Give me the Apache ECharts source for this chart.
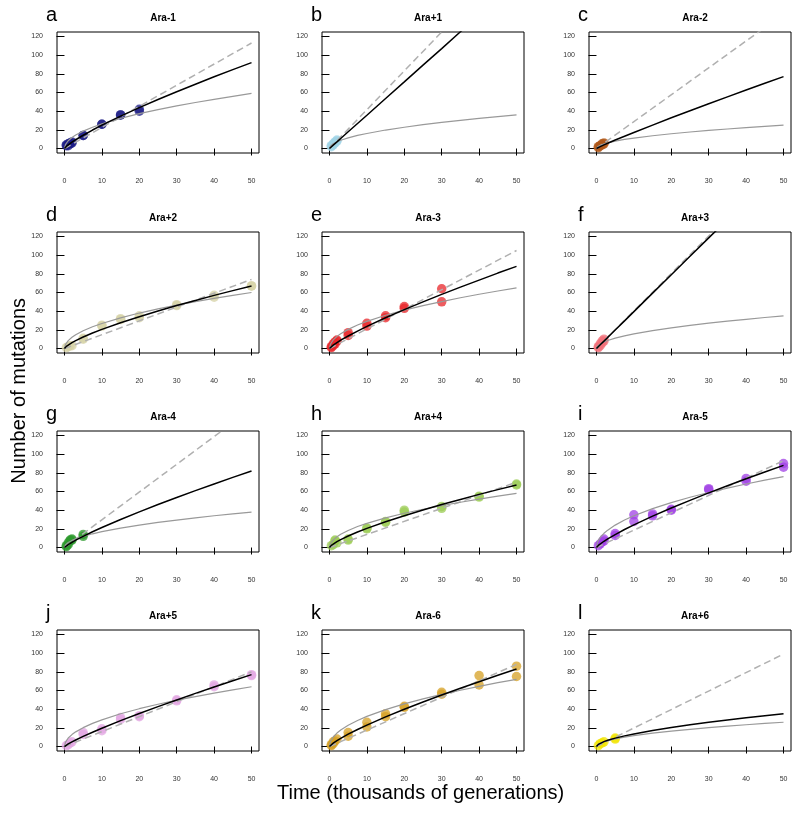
<!DOCTYPE html>
<html><head><meta charset="utf-8">
<script src="https://cdn.jsdelivr.net/npm/echarts@6/dist/echarts.min.js"></script>
<style>html,body{margin:0;padding:0;background:#fff}#c{width:800px;height:813px}</style>
</head><body><div id="c"></div>
<script>
// ---- data ----
const panelNames = ["Ara-1","Ara+1","Ara-2","Ara+2","Ara-3","Ara+3","Ara-4","Ara+4","Ara-5","Ara+5","Ara-6","Ara+6"];
const panelLetters = ["a","b","c","d","e","f","g","h","i","j","k","l"];
const panelColors = ["#1c1c86","#9fd3e6","#b0581a","#d6d2a6","#e8262a","#f2707a","#2e9a2e","#9ccc55","#a040e4","#e2a6e2","#d6a024","#f2e400"];
const xTicks = [0,10,20,30,40,50];
const yTicks = [0,20,40,60,80,100,120];
const curveT = [0,0.25,0.5,1,2,3,5,7.5,10,15,20,25,30,35,40,45,50];
const dashT = [0,50];

const a_t = [0.5,0.5,1,1,1.5,1.5,2,2,5,5,10,10,15,15,20,20];
const a_y = [3,4,3,5,5,6,6,7,14,14,26,26,36,36,40,42];
const a_black = [0,1.3,2.2,3.9,6.8,9.4,14.2,19.8,25.0,34.7,43.8,52.5,60.8,68.9,76.8,84.5,92.0];
const a_grey = [0,4.2,5.9,8.3,11.8,14.4,18.6,22.8,26.4,32.3,37.3,41.7,45.7,49.3,52.7,55.9,59];
const a_dash = [0,113];

const b_t = [0.5,0.5,1,1,1.5,1.5,2,2];
const b_y = [2,3,4,5,6,7,8,9];
const b_black = [0,0.9,1.8,3.6,7.1,10.7,17.9,26.8,35.7,53.6,71.4,89.3,107,125,143,161,178];
const b_grey = [0,2.6,3.6,5.1,7.2,8.8,11.4,14.0,16.1,19.8,22.8,25.5,27.9,30.2,32.3,34.2,36];
const b_dash = [0,208];

const c_t = [0.5,0.5,1,1,1.5,1.5,2,2];
const c_y = [1,2,3,3,4,5,5,6];
const c_black = [0,0.6,1.1,2.0,3.9,5.6,9.1,13.2,17.2,25.1,32.9,40.4,47.9,55.3,62.6,69.9,77.0];
const c_grey = [0,1.8,2.5,3.5,5.0,6.1,7.9,9.7,11.2,13.7,15.8,17.7,19.4,20.9,22.4,23.7,25];
const c_dash = [0,144];

const d_t = [0.5,1,1.5,2,5,5,10,10,15,15,20,20,30,30,40,40,50,50];
const d_y = [1,2,3,3,10,11,24,25,31,32,33,35,46,47,55,57,67,67];
const d_black = [0,1.4,2.3,3.8,6.3,8.4,12.3,16.6,20.5,27.6,34.1,40.2,46.0,51.5,56.9,62.0,67.0];
const d_grey = [0,4.2,6.0,8.5,12.0,14.7,19.0,23.3,26.8,32.9,38.0,42.4,46.5,50.2,53.7,57.0,60];
const d_dash = [0,74];

const e_t = [0.5,0.5,1,1,1.5,1.5,2,2,5,5,10,10,15,15,20,20,30,30];
const e_y = [1,2,3,5,5,7,8,9,14,17,24,27,33,35,43,45,50,64];
const e_black = [0,1.2,2.1,3.6,6.4,8.9,13.4,18.7,23.7,32.9,41.7,50.0,58.0,65.8,73.3,80.8,88.0];
const e_grey = [0,4.6,6.5,9.2,13.0,15.9,20.5,25.2,29.1,35.6,41.1,46.0,50.3,54.4,58.1,61.6,65];
const e_dash = [0,105];

const f_t = [0.5,0.5,1,1,1.5,1.5,2,2];
const f_y = [1,2,3,5,6,8,8,10];
const f_black = [0,1.0,2.0,4.0,7.9,11.9,19.8,29.6,39.5,59.3,79.0,98.8,118.5,138,158,178,197.5];
const f_grey = [0,2.5,3.5,5.0,7.0,8.6,11.1,13.6,15.7,19.2,22.1,24.8,27.1,29.3,31.3,33.2,35];
const f_dash = [0,201];

const g_t = [0.5,0.5,1,1,1.5,1.5,2,2,5,5];
const g_y = [1,2,3,5,7,8,8,9,12,14];
const g_black = [0,1.0,1.8,3.1,5.6,7.9,12.0,16.9,21.4,30.0,38.2,46.0,53.5,60.9,68.1,75.1,82.0];
const g_grey = [0,2.7,3.8,5.4,7.6,9.3,12.0,14.7,17.0,20.8,24.0,26.9,29.4,31.8,34.0,36.0,38];
const g_dash = [0,148.5];

const h_t = [0.5,1,1.5,1.5,2,5,5,10,10,15,15,20,20,30,30,40,40,50,50];
const h_y = [2,3,7,8,5,8,9,20,21,27,28,38,40,42,44,54,55,67,68];
const h_black = [0,1.4,2.3,3.8,6.3,8.4,12.3,16.6,20.5,27.6,34.1,40.2,46.0,51.5,56.9,62.0,67.0];
const h_grey = [0,4.1,5.8,8.2,11.6,14.2,18.3,22.5,25.9,31.8,36.7,41.0,44.9,48.5,51.9,55.0,58];
const h_dash = [0,70];

const i_t = [0.5,1,1.5,2,2,5,5,10,10,15,15,20,20,30,30,40,40,50,50];
const i_y = [2,4,6,7,9,13,15,28,35,34,36,40,41,62,63,71,74,86,90];
const i_black = [0,1.3,2.2,3.8,6.7,9.3,13.9,19.3,24.3,33.6,42.3,50.5,58.5,66.1,73.6,80.9,88.0];
const i_grey = [0,5.4,7.6,10.8,15.2,18.6,24.0,29.4,34.0,41.6,48.1,53.8,58.9,63.6,68.0,72.1,76];
const i_dash = [0,93];

const j_t = [0.5,1,1.5,2,5,5,10,10,15,15,20,20,30,30,40,40,50,50];
const j_y = [1,2,4,5,13,15,17,19,29,31,32,33,49,50,64,66,76,77];
const j_black = [0,0.9,1.5,2.8,5.0,7.0,10.9,15.3,19.6,27.7,35.4,42.7,49.9,56.9,63.7,70.4,77.0];
const j_grey = [0,4.5,6.4,9.1,12.8,15.7,20.2,24.8,28.6,35.1,40.5,45.3,49.6,53.5,57.2,60.7,64];
const j_dash = [0,80];

const k_t = [0.5,0.5,1,1,1.5,2,5,5,10,10,15,15,20,20,30,30,40,40,50,50];
const k_y = [1,2,3,5,6,8,11,15,21,26,32,35,42,43,56,58,66,76,75,86];
const k_black = [0,1.2,2.1,3.6,6.3,8.7,13.2,18.2,22.9,31.7,39.9,47.7,55.1,62.4,69.4,76.3,83.0];
const k_grey = [0,5.1,7.2,10.2,14.4,17.7,22.8,27.9,32.3,39.5,45.6,51.0,55.9,60.3,64.5,68.4,72];
const k_dash = [0,88];

const l_t = [0.5,1,1.5,2,5,5];
const l_y = [1,3,4,5,8,9];
const l_black = [0,1.5,2.3,3.5,5.2,6.7,9.0,11.4,13.5,17.2,20.4,23.2,25.9,28.3,30.7,32.9,35.0];
const l_grey = [0,1.8,2.6,3.7,5.2,6.4,8.2,10.1,11.6,14.3,16.5,18.4,20.2,21.8,23.3,24.7,26];
const l_dash = [0,99];

const pointTimes = [a_t,b_t,c_t,d_t,e_t,f_t,g_t,h_t,i_t,j_t,k_t,l_t];
const pointValues = [a_y,b_y,c_y,d_y,e_y,f_y,g_y,h_y,i_y,j_y,k_y,l_y];
const blackCurves = [a_black,b_black,c_black,d_black,e_black,f_black,g_black,h_black,i_black,j_black,k_black,l_black];
const greyCurves = [a_grey,b_grey,c_grey,d_grey,e_grey,f_grey,g_grey,h_grey,i_grey,j_grey,k_grey,l_grey];
const dashCurves = [a_dash,b_dash,c_dash,d_dash,e_dash,f_dash,g_dash,h_dash,i_dash,j_dash,k_dash,l_dash];

// ---- layout ----
const colLeft = [57, 322, 589];
const rowTop = [32, 232, 431, 630];
const gw = 202, gh = 121;
const FONT = '"Liberation Sans", Arial, Helvetica, sans-serif';

const grids = [], xAxes = [], yAxes = [], series = [], titles = [], graphics = [];
for (let p = 0; p < 12; p++) {
  const col = p % 3, row = Math.floor(p / 3);
  const L = colLeft[col], T = rowTop[row];
  grids.push({left: L, top: T, width: gw, height: gh, show: true, borderColor: '#000', borderWidth: 1, backgroundColor: 'transparent', containLabel: false});
  xAxes.push({type: 'value', gridIndex: p, min: -2, max: 52,
    axisLine: {show: false},
    axisTick: {show: true, length: 7, lineStyle: {color: '#000', width: 1}, customValues: xTicks},
    axisLabel: {show: true, margin: 25, fontSize: 7, color: '#333', fontFamily: FONT, customValues: xTicks},
    splitLine: {show: false}});
  yAxes.push({type: 'value', gridIndex: p, min: -4.8, max: 124.8,
    axisLine: {show: false},
    axisTick: {show: true, length: 8, lineStyle: {color: '#000', width: 1}, customValues: yTicks},
    axisLabel: {show: true, margin: 14, fontSize: 7, color: '#333', fontFamily: FONT, customValues: yTicks},
    splitLine: {show: false}});
  series.push({type: 'scatter', xAxisIndex: p, yAxisIndex: p, symbolSize: 9.5,
    itemStyle: {color: panelColors[p], opacity: 0.75}, z: 2,
    data: pointTimes[p].map((t, k) => [t, pointValues[p][k]])});
  series.push({type: 'line', xAxisIndex: p, yAxisIndex: p, showSymbol: false, clip: true, z: 3,
    lineStyle: {color: '#b0b0b0', width: 1.5, type: [7, 4]},
    data: dashT.map((t, k) => [t, dashCurves[p][k]])});
  series.push({type: 'line', xAxisIndex: p, yAxisIndex: p, showSymbol: false, clip: true, z: 4,
    lineStyle: {color: '#999999', width: 1.2},
    data: curveT.map((t, k) => [t, greyCurves[p][k]])});
  series.push({type: 'line', xAxisIndex: p, yAxisIndex: p, showSymbol: false, clip: true, z: 5,
    lineStyle: {color: '#000000', width: 1.5},
    data: curveT.map((t, k) => [t, blackCurves[p][k]])});
  titles.push({text: panelNames[p], left: L + gw / 2, top: T - 24, textAlign: 'center',
    textStyle: {fontSize: 10, fontWeight: 'bold', color: '#000', fontFamily: FONT}});
  graphics.push({type: 'text', left: L - 11, top: T - 27,
    style: {text: panelLetters[p], font: '20px ' + FONT, fill: '#000'}});
}
graphics.push({type: 'text', left: 9, top: 298, rotation: Math.PI / 2,
  style: {text: 'Number of mutations', font: '20px ' + FONT, fill: '#000'}});
graphics.push({type: 'text', left: 277, top: 783,
  style: {text: 'Time (thousands of generations)', font: '20px ' + FONT, fill: '#000'}});

const chart = echarts.init(document.getElementById('c'), null, {renderer: 'canvas'});
chart.setOption({
  animation: false,
  backgroundColor: '#fff',
  title: titles,
  grid: grids,
  xAxis: xAxes,
  yAxis: yAxes,
  series: series,
  graphic: graphics
});
</script></body></html>
